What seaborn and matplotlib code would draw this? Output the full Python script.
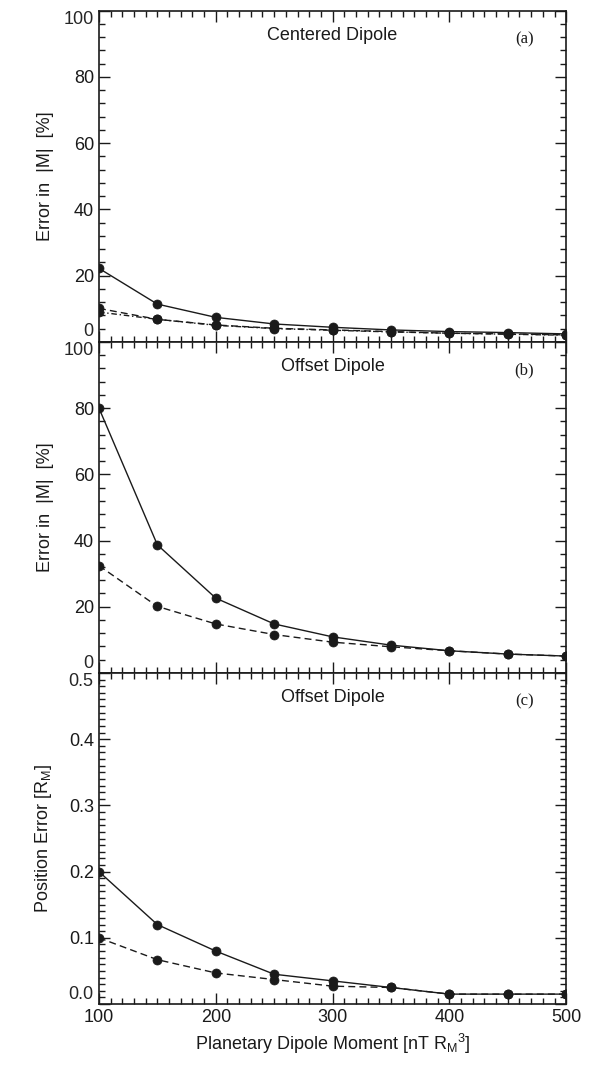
import numpy as np
import pandas as pd
import seaborn as sns
import matplotlib.pyplot as plt
from matplotlib.ticker import MultipleLocator, FuncFormatter

#%% data
moment = [100, 150, 200, 250, 300, 350, 400, 450, 500]

# (a) centered dipole, error in |M| [%]
a_solid = [22.2, 11.4, 7.4, 5.4, 4.4, 3.6, 3.1, 2.8, 2.4]
a_dash = [10.1, 6.8, 5.1, 4.1, 3.6, 3.1, 2.6, 2.4, 2.1]
a_dashdot = [9.0, 6.8, 5.0, 4.0, 3.5, 3.0, 2.6, 2.3, 2.0]

# (b) offset dipole, error in |M| [%]
b_solid = [80.0, 38.7, 22.6, 14.8, 10.9, 8.4, 6.7, 5.7, 5.1]
b_dash = [32.4, 20.1, 14.8, 11.6, 9.3, 7.9, 6.7, 5.7, 5.1]

# (c) offset dipole, position error [R_M]
c_solid = [0.20, 0.12, 0.08, 0.045, 0.035, 0.025, 0.015, 0.015, 0.015]
c_dash = [0.10, 0.067, 0.047, 0.037, 0.027, 0.025, 0.015, 0.015, 0.015]

#%% style
sns.set_theme(style='ticks')
plt.rcParams['font.family'] = ['Liberation Sans', 'DejaVu Sans']
plt.rcParams['mathtext.fontset'] = 'custom'
plt.rcParams['mathtext.rm'] = 'Liberation Sans'
plt.rcParams['mathtext.it'] = 'Liberation Sans'

fig, axes = plt.subplots(3, 1, figsize=(5.96, 10.75), dpi=100, sharex=True)
fig.subplots_adjust(left=0.166, right=0.950, top=0.990, bottom=0.066, hspace=0)

line_kw = dict(color='k', marker='o', markersize=6.5, markeredgecolor='k',
               markeredgewidth=0.5, linewidth=1.0)

panels = [
    (axes[0], [(a_solid, '-'), (a_dash, (0, (5, 3))), (a_dashdot, (0, (4, 2, 1, 2)))],
     (0, 100), 20, 4, '%d', 'Centered Dipole', '(a)', 'Error in  |M|  [%]'),
    (axes[1], [(b_solid, '-'), (b_dash, (0, (5, 3)))],
     (0, 100), 20, 4, '%d', 'Offset Dipole', '(b)', 'Error in  |M|  [%]'),
    (axes[2], [(c_solid, '-'), (c_dash, (0, (5, 3)))],
     (0, 0.5), 0.1, 0.01, '%.1f', 'Offset Dipole', '(c)', r'Position Error [R$_{\rm M}$]'),
]

for ax, series, ylim, major, minor, fmt, title, tag, ylab in panels:
    for vals, ls in series:
        sns.lineplot(x=moment, y=vals, ax=ax, linestyle=ls, **line_kw)
    ax.set_xlim(100, 500)
    ax.set_ylim(*ylim)
    ax.xaxis.set_major_locator(MultipleLocator(100))
    ax.xaxis.set_minor_locator(MultipleLocator(10))
    ax.yaxis.set_major_locator(MultipleLocator(major))
    ax.yaxis.set_minor_locator(MultipleLocator(minor))

    # end labels are drawn separately so they sit inside the panel
    lo, hi = ylim
    ax.yaxis.set_major_formatter(FuncFormatter(
        lambda v, p, lo=lo, hi=hi, fmt=fmt:
        '' if np.isclose(v, lo) or np.isclose(v, hi) else fmt % v))
    trans = ax.get_yaxis_transform()
    ax.annotate(fmt % lo, xy=(0, lo), xycoords=trans, xytext=(-4, 1),
                textcoords='offset points', ha='right', va='bottom', fontsize=13)
    ax.annotate(fmt % hi, xy=(0, hi), xycoords=trans, xytext=(-4, 0),
                textcoords='offset points', ha='right', va='top', fontsize=13)

    ax.tick_params(which='both', direction='in', top=True, right=True,
                   colors='k', labelsize=13, width=1.0)
    ax.tick_params(which='major', length=8)
    ax.tick_params(which='minor', length=4)
    for sp in ax.spines.values():
        sp.set_visible(True)
        sp.set_color('k')
        sp.set_linewidth(1.2)
    ax.set_ylabel(ylab, fontsize=13, color='k')
    ax.yaxis.set_label_coords(-0.097, 0.5)
    ax.text(0.5, 0.925, title, transform=ax.transAxes, ha='center', va='center',
            fontsize=13, color='k')
    ax.text(0.91, 0.915, tag, transform=ax.transAxes, ha='center', va='center',
            fontsize=12, color='k', family='Liberation Serif')

axes[2].set_xlabel(r'Planetary Dipole Moment [nT R$_{\rm M}$$^3$]', fontsize=13, color='k')

plt.savefig('out.png', dpi=100)
